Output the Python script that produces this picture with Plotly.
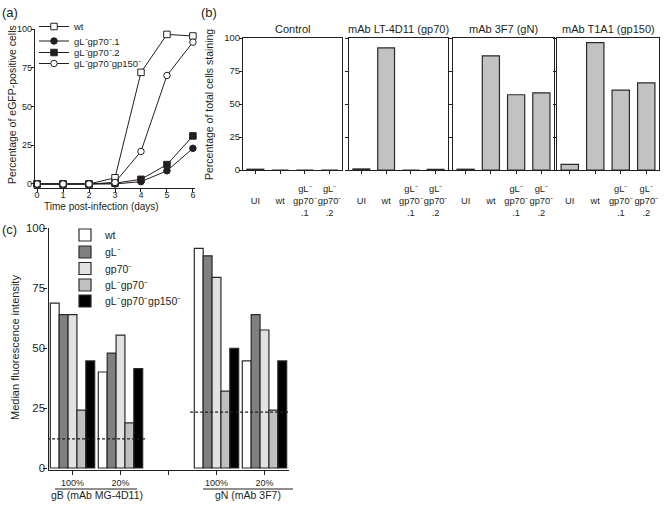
import plotly.graph_objects as go

W, H = 665, 505
FONT = "Liberation Sans"
INK = "#231f20"


def px(x):
    return x / W


def py(y):
    return 1 - y / H


# ---------------- (a) growth curves ----------------
days = [0, 1, 2, 3, 4, 5, 6]
a_names = ["wt", "gL⁻gp70⁻.1", "gL⁻gp70⁻.2", "gL⁻gp70⁻gp150⁻"]
a_wt = [0, 0, 0, 4, 72, 96.5, 95.5]
a_gl_gp70_1 = [0, 0, 0, 0, 1.5, 8.5, 23]
a_gl_gp70_2 = [0, 0, 0, 0.5, 3, 12.5, 31]
a_gl_gp70_gp150 = [0, 0, 0, 1, 21, 70, 91.5]
a_yticks = [0, 25, 50, 75, 100]

# ---------------- (b) antibody staining ----------------
b_samples = ["UI", "wt", "gL⁻gp70⁻.1", "gL⁻gp70⁻.2"]
b_ticklabels = ["\u00a0<br>UI", "\u00a0<br>wt", "gL⁻<br>gp70⁻<br>.1", "gL⁻<br>gp70⁻<br>.2"]
b_antibodies = ["Control", "mAb LT-4D11 (gp70)", "mAb 3F7 (gN)", "mAb T1A1 (gp150)"]
b_control = [0.6, 0, 0, 0]
b_lt4d11 = [0.8, 92.5, 0, 0.5]
b_3f7 = [0.6, 86.5, 57, 58.5]
b_t1a1 = [4.3, 96.5, 60.5, 66]
b_yticks = [0, 25, 50, 75, 100]

# ---------------- (c) median fluorescence ----------------
c_categories = ["gB 100%", "gB 20%", "gap", "gN 100%", "gN 20%"]
c_ticklabels = ["100%", "20%", "", "100%", "20%"]
c_antigens = ["gB (mAb MG-4D11)", "gN (mAb 3F7)"]
c_names = ["wt", "gL⁻", "gp70⁻", "gL⁻gp70⁻", "gL⁻gp70⁻gp150⁻"]
c_wt = [68.7, 40.0, None, 91.5, 44.6]
c_gl = [63.9, 47.9, None, 88.4, 63.9]
c_gp70 = [63.9, 55.4, None, 79.4, 57.5]
c_gl_gp70 = [24.1, 18.8, None, 32.0, 24.1]
c_gl_gp70_gp150 = [44.6, 41.4, None, 49.9, 44.6]
c_background = [12.1, 23.3]
c_yticks = [0, 25, 50, 75, 100]

fig = go.Figure()

# ---- (a) traces; legend rows listed top to bottom
a_rows = [28.5, 43, 54.5, 65.5]
a_series = [
    (a_wt, a_names[0], "square", "white", 0),
    (a_gl_gp70_1, a_names[1], "circle", INK, 1),
    (a_gl_gp70_2, a_names[2], "square", INK, 2),
    (a_gl_gp70_gp150, a_names[3], "circle", "white", 3),
]
for vals, name, sym, fill, row in a_series:
    fig.add_trace(go.Scatter(
        x=days, y=vals, name=name, mode="lines+markers",
        line=dict(color=INK, width=1),
        marker=dict(symbol=sym, size=6.5, color=fill, line=dict(color=INK, width=1)),
        xaxis="x", yaxis="y", cliponaxis=False, legend=f"legend{2 + row}",
    ))

# ---- (b) traces
b_sets = [b_control, b_lt4d11, b_3f7, b_t1a1]
for i, vals in enumerate(b_sets):
    k = i + 2
    fig.add_trace(go.Bar(
        x=b_samples, y=vals, name=b_antibodies[i], showlegend=False, width=0.68,
        marker=dict(color="#c2c2c2", line=dict(color="#2a2a2a", width=1.2)),
        xaxis=f"x{k}", yaxis=f"y{k}",
    ))

# ---- (c) traces
c_sets = [c_wt, c_gl, c_gp70, c_gl_gp70, c_gl_gp70_gp150]
c_colors = ["#ffffff", "#808080", "#e2e2e2", "#c0c0c0", "#000000"]
for i, vals in enumerate(c_sets):
    fig.add_trace(go.Bar(
        x=c_categories, y=vals, name=c_names[i],
        marker=dict(color=c_colors[i], line=dict(color="#2a2a2a", width=1.2)),
        xaxis="x6", yaxis="y6", legend=f"legend{6 + i}",
    ))

tickfont_a = dict(family=FONT, size=9, color=INK)
axis_common = dict(showgrid=False, zeroline=False, showline=True, linecolor=INK,
                   linewidth=1.2, ticks="outside", tickcolor=INK, tickwidth=1.2,
                   automargin=False)

layout = dict(
    width=W, height=H, margin=dict(l=0, r=0, t=0, b=0, autoexpand=False),
    paper_bgcolor="white", plot_bgcolor="white",
    font=dict(family=FONT, color=INK),
    barmode="group", bargap=0.075, bargroupgap=0,
    xaxis=dict(domain=[px(35), px(195)], range=[-0.08, 6.08], anchor="y",
               tickvals=days, ticklen=3, tickfont=tickfont_a, tickangle=0,
               ticklabelstandoff=-5, **axis_common),
    yaxis=dict(domain=[py(188), py(29)], range=[-2.6, 100], anchor="x",
               tickvals=a_yticks, ticklen=3, tickfont=tickfont_a,
               ticklabelstandoff=-3, **axis_common),
)

b_domains = [(243, 342), (349, 448), (453, 554), (557, 659)]
for i, (x0, x1) in enumerate(b_domains):
    k = i + 2
    layout[f"xaxis{k}"] = dict(domain=[px(x0), px(x1)], anchor=f"y{k}", type="category",
                               categoryorder="array", categoryarray=b_samples,
                               range=[-0.5, 3.5], tickvals=b_samples, ticktext=b_ticklabels,
                               ticklen=3, mirror=True, tickangle=0, ticklabelstandoff=7,
                               tickfont=dict(family=FONT, size=9.3, color=INK), **axis_common)
    layout[f"yaxis{k}"] = dict(domain=[py(170), py(38)], anchor=f"x{k}", range=[0, 100],
                               tickvals=b_yticks, ticklen=3, mirror=True,
                               showticklabels=(i == 0), ticklabelstandoff=-3,
                               tickfont=dict(family=FONT, size=9.5, color=INK), **axis_common)

layout["xaxis6"] = dict(domain=[px(48.5), px(288.5)], anchor="y6", type="category",
                        categoryorder="array", categoryarray=c_categories,
                        range=[-0.5, 4.5], tickvals=c_categories, ticktext=c_ticklabels,
                        ticklen=4, tickangle=0,
                        tickfont=dict(family=FONT, size=9, color=INK), **axis_common)
layout["yaxis6"] = dict(domain=[py(470), py(228)], anchor="x6", range=[-0.83, 100],
                        tickvals=c_yticks, ticklen=4, ticklabelstandoff=-4,
                        tickfont=dict(family=FONT, size=11.5, color=INK), **axis_common)

# legends
layout["legend"] = dict(visible=False)
for j, row in enumerate(a_rows):
    layout[f"legend{2 + j}"] = dict(x=px(34), xanchor="left", y=py(row - 2), yanchor="middle",
                                     bgcolor="rgba(0,0,0,0)", borderwidth=0,
                                     font=dict(family=FONT, size=9.5, color=INK))
c_rows = [235, 252, 268.5, 285, 301]
for i, row in enumerate(c_rows):
    layout[f"legend{6 + i}"] = dict(x=px(65), xanchor="left", y=py(row), yanchor="middle",
                                     bgcolor="rgba(0,0,0,0)", borderwidth=0,
                                     font=dict(family=FONT, size=10.5, color=INK))

fig.update_layout(**layout)

# background (dashed) lines in (c)
bg_spans = [(-0.53, 1.55), (2.45, 4.57)]
for (x0, x1), yv in zip(bg_spans, c_background):
    fig.add_shape(type="line", xref="x6", yref="y6", x0=x0, x1=x1, y0=yv, y1=yv,
                  line=dict(color=INK, width=1.2, dash="3px,2px"))

# group underlines in (c)
for (x0, x1) in [(55, 137), (203, 293)]:
    fig.add_shape(type="line", xref="paper", yref="paper", x0=px(x0), x1=px(x1),
                  y0=py(489), y1=py(489), line=dict(color=INK, width=1.2))

ann = []


def add_text(text, x, y, size, angle=0, xanchor="center"):
    ann.append(dict(text=text, x=px(x), y=py(y), xref="paper", yref="paper",
                    showarrow=False, xanchor=xanchor, yanchor="middle", textangle=angle,
                    font=dict(family=FONT, size=size, color=INK)))


add_text("(a)", 0, 12, 13, xanchor="left")
add_text("(b)", 199, 12, 13, xanchor="left")
add_text("(c)", 0, 230, 13, xanchor="left")
add_text("Percentage of eGFP-positive cells", 12, 105, 10.5, angle=-90)
add_text("Time post-infection (days)", 101, 207, 10)
add_text("Percentage of total cells staining", 209, 105, 10.5, angle=-90)
for (x0, x1), title in zip(b_domains, b_antibodies):
    add_text(title, (x0 + x1) / 2, 29, 11)
add_text("Median fluorescence intensity", 15, 348, 11, angle=-90)
add_text(c_antigens[0], 97, 495, 10.5)
add_text(c_antigens[1], 248, 495, 10.5)

fig.update_layout(annotations=ann)
fig.write_html("out.html", config={"displayModeBar": False},
               post_script="document.body.style.margin='0';")
